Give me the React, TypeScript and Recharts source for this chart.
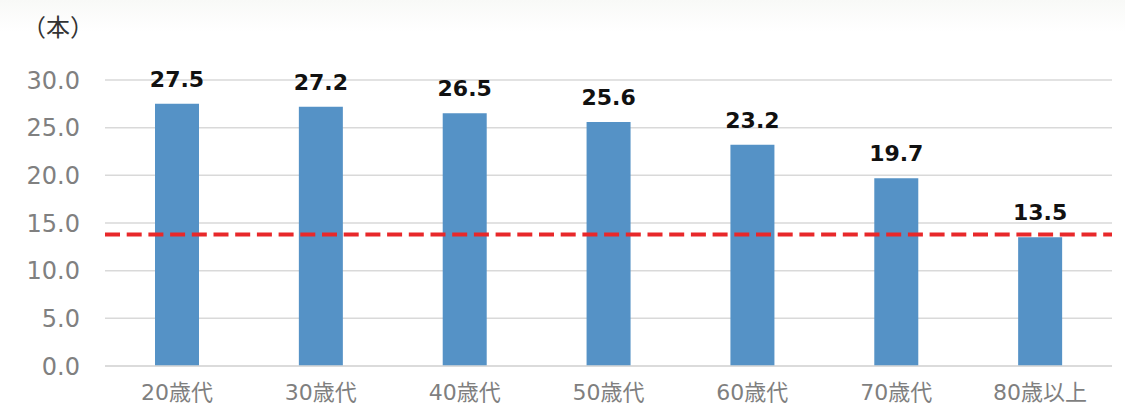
import React from "react";
import { BarChart, Bar, XAxis, YAxis, CartesianGrid, ReferenceLine, LabelList } from "recharts";

const categories = ["20歳代", "30歳代", "40歳代", "50歳代", "60歳代", "70歳代", "80歳以上"];
const values = [27.5, 27.2, 26.5, 25.6, 23.2, 19.7, 13.5];
const yTicks = [0, 5, 10, 15, 20, 25, 30];
const referenceValue = 13.8;
const unitLabel = "（本）";

const data = categories.map((c, i) => ({ name: c, value: values[i] }));

const FONT = "'DejaVu Sans', 'Noto Sans CJK JP', sans-serif";
const CJK = "'Noto Sans CJK JP', sans-serif";

export default function App() {
  return (
    <div style={{ position: "fixed", left: 0, top: 0, width: 1125, height: 405, background: "#ffffff", fontFamily: FONT }}>
      <div style={{ position: "absolute", left: 0, top: 0, width: 1125, height: 32, background: "linear-gradient(#f8f9f7, #ffffff)" }} />
      <div style={{ position: "absolute", left: 22, top: 9, fontSize: 24, color: "#333", lineHeight: "34px", fontFamily: CJK }}>{unitLabel}</div>
      <div style={{ position: "absolute", left: 0, top: 0 }}>
        <BarChart width={1125} height={405} data={data} margin={{ top: 80, right: 13, bottom: 0, left: 0 }}>
          <CartesianGrid vertical={false} stroke="#d9d9d9" strokeWidth={1.5} />
          <XAxis
            dataKey="name"
            height={39}
            axisLine={{ stroke: "#d9d9d9", strokeWidth: 1.5 }}
            tickLine={false}
            tickSize={0}
            tickMargin={18}
            tick={{ fill: "#7f7f7f", fontSize: 22, fontFamily: FONT }}
            interval={0}
          />
          <YAxis
            width={105}
            domain={[0, 30]}
            ticks={yTicks}
            axisLine={false}
            tickLine={false}
            tickSize={0}
            tickMargin={25}
            tickFormatter={(v: number) => v.toFixed(1)}
            tick={{ fill: "#808080", fontSize: 24, fontFamily: FONT }}
          />
          <Bar dataKey="value" fill="#5592c6" barSize={44} isAnimationActive={false}>
            <LabelList
              dataKey="value"
              position="top"
              offset={17}
              formatter={(v: number) => v.toFixed(1)}
              style={{ fill: "#111", fontSize: 22, fontWeight: 700, fontFamily: FONT }}
            />
          </Bar>
          <ReferenceLine y={referenceValue} stroke="#e8282a" strokeWidth={4} strokeDasharray="15 6.7" ifOverflow="extendDomain" />
        </BarChart>
      </div>
    </div>
  );
}
